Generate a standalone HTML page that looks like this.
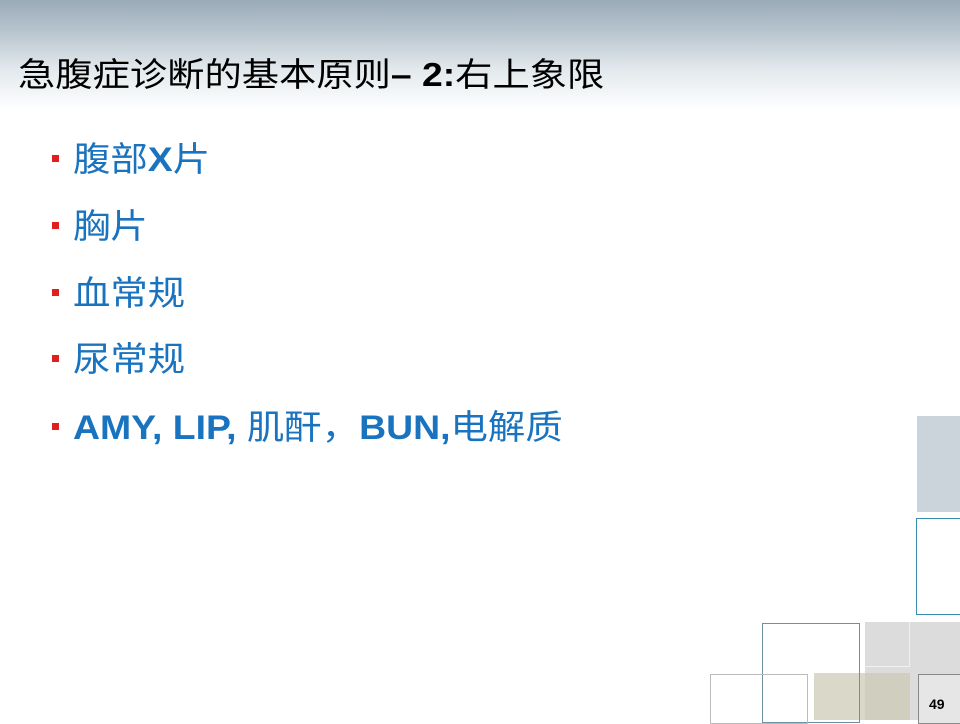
<!DOCTYPE html>
<html><head><meta charset="utf-8"><style>
body{margin:0;width:960px;height:720px;position:relative;overflow:hidden;background:#fff;font-family:"Liberation Sans","Noto Sans CJK SC",sans-serif}
.hdr{position:absolute;left:0;top:0;width:960px;height:110px;background:linear-gradient(#9aabb8 0%,#b9c6cf 30%,#e2e8ec 62%,#fff 100%)}
.title{position:absolute;left:18px;top:55px;font-size:33px;line-height:40px;color:#000;white-space:nowrap;transform:scaleX(1.13);transform-origin:0 0}
.it{position:absolute;left:73px;font-size:34px;color:#1a73bf;white-space:nowrap;line-height:40px;transform:scaleX(1.1);transform-origin:0 0}
.b{position:absolute;left:52px;width:7px;height:7px;background:#e0201c}
.r{position:absolute;box-sizing:border-box}
</style></head><body>
<div class="hdr"></div>
<div class="title">急腹症诊断的基本原则<b>– 2:</b>右上象限</div>
<div class="b" style="top:155px"></div><div class="it" style="top:140px">腹部<b>X</b>片</div>
<div class="b" style="top:222px"></div><div class="it" style="top:207px">胸片</div>
<div class="b" style="top:289px"></div><div class="it" style="top:274px">血常规</div>
<div class="b" style="top:355px"></div><div class="it" style="top:340px">尿常规</div>
<div class="b" style="top:423px"></div><div class="it" style="top:408px"><b>AMY, LIP, </b>肌酐，<b>BUN,</b>电解质</div>

<div class="r" style="left:917px;top:416px;width:43px;height:96px;background:#cbd3db"></div>
<div class="r" style="left:916px;top:518px;width:46px;height:97px;border:1px solid #3a8fb0"></div>
<div class="r" style="left:865px;top:622px;width:95px;height:98px;background:#dcdcdc"></div>
<div class="r" style="left:865px;top:622px;width:45px;height:45px;border-right:1px solid #f2f2f2;border-bottom:1px solid #f2f2f2"></div>
<div class="r" style="left:814px;top:673px;width:96px;height:47px;background:#dad9c9"></div>
<div class="r" style="left:865px;top:673px;width:45px;height:47px;background:#cfcebf"></div>
<div class="r" style="left:762px;top:623px;width:98px;height:100px;border:1px solid #6f8fa3"></div>
<div class="r" style="left:710px;top:674px;width:98px;height:50px;border:1px solid #bbb"></div>
<div class="r" style="left:918px;top:674px;width:44px;height:50px;border:1px solid #888;background:#e6e6e6"></div>
<div style="position:absolute;left:929px;top:696px;font-size:14px;font-weight:bold;color:#000">49</div>
</body></html>
